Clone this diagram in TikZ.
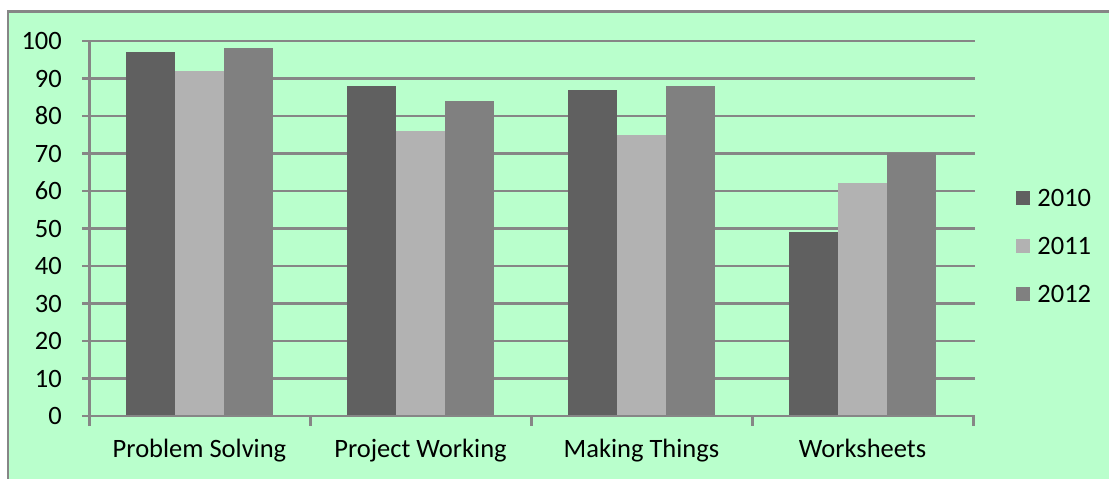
\documentclass[tikz,border=0pt]{standalone}
\usepackage{fontspec}
\setmainfont{Carlito}
\usetikzlibrary{positioning}
\definecolor{chartbg}{RGB}{185,255,204}
\definecolor{gridgray}{RGB}{134,134,134}
\definecolor{yrA}{RGB}{96,96,96}
\definecolor{yrB}{RGB}{178,178,178}
\definecolor{yrC}{RGB}{128,128,128}
\tikzset{
  % grid and axis lines
  gridline/.style={draw=gridgray, line width=2.8pt},
  % the bars, one colour per year
  bar2010/.style={fill=yrA},
  bar2011/.style={fill=yrB},
  bar2012/.style={fill=yrC},
  % legend keys
  key/.style={rectangle, minimum size=14pt, inner sep=0pt},
  % texts
  ylabel/.style={anchor=east, inner sep=0pt},
  catlabel/.style={anchor=base, inner sep=0pt},
  keylabel/.style={anchor=west, inner sep=0pt}
}
\tikzstyle{every node}=[font=\fontsize{26.5}{32}\selectfont]
\begin{document}
\begin{tikzpicture}[x=1pt, y=1pt]
\useasboundingbox (0,0) rectangle (1109,479);
% background and frame
\fill[chartbg] (8,0) rectangle (1109,467.7);
\draw[gridgray, line width=2.7pt] (8,0) -- (8,467.7) -- (1109,467.7);
\begin{scope}[shift={(0,63)}, y=3.75pt]
% grid lines
\draw[gridline] (82,10) -- (975,10);
\draw[gridline] (82,20) -- (975,20);
\draw[gridline] (82,30) -- (975,30);
\draw[gridline] (82,40) -- (975,40);
\draw[gridline] (82,50) -- (975,50);
\draw[gridline] (82,60) -- (975,60);
\draw[gridline] (82,70) -- (975,70);
\draw[gridline] (82,80) -- (975,80);
\draw[gridline] (82,90) -- (975,90);
\draw[gridline] (82,100) -- (975,100);
% bars
\fill[bar2010] (126,0) rectangle (175,97);
\fill[bar2011] (175,0) rectangle (224,92);
\fill[bar2012] (224,0) rectangle (273,98);
\fill[bar2010] (347,0) rectangle (396,88);
\fill[bar2011] (396,0) rectangle (445,76);
\fill[bar2012] (445,0) rectangle (494,84);
\fill[bar2010] (568,0) rectangle (617,87);
\fill[bar2011] (617,0) rectangle (666,75);
\fill[bar2012] (666,0) rectangle (715,88);
\fill[bar2010] (789,0) rectangle (838,49);
\fill[bar2011] (838,0) rectangle (887,62);
\fill[bar2012] (887,0) rectangle (936,70);
% axes
\draw[gridline] (82,0) -- (975,0);
\draw[gridline] (89.5,-2.7) -- (89.5,100);
\draw[gridline] (310.5,0) -- (310.5,-2.7);
\draw[gridline] (531.5,0) -- (531.5,-2.7);
\draw[gridline] (752.5,0) -- (752.5,-2.7);
\draw[gridline] (973.5,0) -- (973.5,-2.7);
% y labels
\node[ylabel] (y0) at (62,0) {0};
\node[ylabel] (y10) at (62,10) {10};
\node[ylabel] (y20) at (62,20) {20};
\node[ylabel] (y30) at (62,30) {30};
\node[ylabel] (y40) at (62,40) {40};
\node[ylabel] (y50) at (62,50) {50};
\node[ylabel] (y60) at (62,60) {60};
\node[ylabel] (y70) at (62,70) {70};
\node[ylabel] (y80) at (62,80) {80};
\node[ylabel] (y90) at (62,90) {90};
\node[ylabel] (y100) at (62,100) {100};
\end{scope}
% category labels
\node[catlabel] (ps) at (199.5,21) {Problem Solving};
\node[catlabel] (pw) at (420.5,21) {Project Working};
\node[catlabel] (mt) at (641.5,21) {Making Things};
\node[catlabel] (ws) at (862.5,21) {Worksheets};
% legend
\node[key, bar2010] (k2010) at (1023,281) {};
\node[key, bar2011] (k2011) at (1023,233) {};
\node[key, bar2012] (k2012) at (1023,185) {};
\node[keylabel, right=7pt of k2010] (l2010) {2010};
\node[keylabel, right=7pt of k2011] (l2011) {2011};
\node[keylabel, right=7pt of k2012] (l2012) {2012};
\end{tikzpicture}
\end{document}
